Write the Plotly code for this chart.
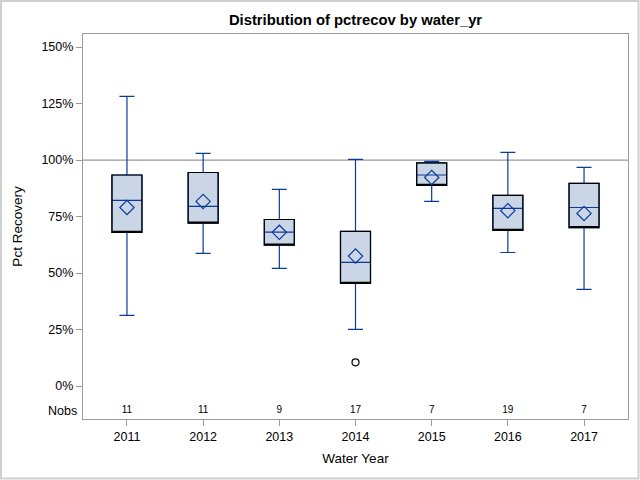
import plotly.graph_objects as go

years = ["2011", "2012", "2013", "2014", "2015", "2016", "2017"]
q1 = [68.0, 72.1, 62.4, 45.4, 88.8, 68.9, 70.1]
median = [82.2, 79.5, 68.1, 54.7, 93.4, 78.6, 79.0]
q3 = [93.4, 94.5, 73.7, 68.4, 98.8, 84.4, 89.7]
lower = [31.3, 58.7, 52.1, 25.1, 81.7, 59.1, 42.8]
upper = [128.2, 103.0, 87.0, 100.3, 99.4, 103.4, 96.8]
means = [79.0, 81.7, 68.0, 57.5, 92.3, 77.6, 76.4]
nobs = [11, 11, 9, 17, 7, 19, 7]
outlier_x = ["2014"]
outlier_y = [10.5]
ytick_vals = [0, 25, 50, 75, 100, 125, 150]
ytick_text = [f"{v}%" for v in ytick_vals]

BLUE = "#0B3B99"
FILL = "#CAD5E5"
GRAY = "#9A9A9A"
FONT = "Liberation Sans"

W, H = 640, 480
ML, MR, MT, MB = 83, 12, 34, 61

fig = go.Figure()

fig.add_trace(go.Box(
    x=years, q1=q1, median=median, q3=q3,
    lowerfence=lower, upperfence=upper,
    fillcolor=FILL, line=dict(color=BLUE, width=1.2),
    width=0.394, whiskerwidth=0.5, boxpoints=False,
    hoverinfo="skip", showlegend=False,
))
fig.add_trace(go.Box(
    x=years, q1=q1, median=q1, q3=q3,
    lowerfence=q1, upperfence=q3,
    fillcolor="rgba(0,0,0,0)", line=dict(color="black", width=1.2),
    width=0.394, whiskerwidth=0, boxpoints=False,
    hoverinfo="skip", showlegend=False,
))
fig.add_trace(go.Scatter(
    x=years, y=means, mode="markers",
    marker=dict(symbol="diamond-open", size=11, color=BLUE, line=dict(width=1.2)),
    showlegend=False, hoverinfo="skip",
))
fig.add_trace(go.Scatter(
    x=outlier_x, y=outlier_y, mode="markers",
    marker=dict(symbol="circle-open", size=7, color="black", line=dict(width=1.2)),
    showlegend=False, hoverinfo="skip",
))
fig.add_trace(go.Scatter(
    x=years, y=[-11] * len(years), mode="text",
    text=[str(n) for n in nobs], textposition="middle center",
    textfont=dict(family=FONT, size=10, color="black"),
    showlegend=False, hoverinfo="skip",
))

fig.add_hline(y=100, line=dict(color=GRAY, width=1.2), layer="below")

pw = W - ML - MR
ph = H - MT - MB
fig.add_shape(type="rect", xref="paper", yref="paper",
              x0=-(ML - 1) / pw, x1=1 + (MR - 1.5) / pw,
              y0=-(MB - 1.5) / ph, y1=1 + (MT - 1) / ph,
              line=dict(color="#D0D0D0", width=2))

fig.add_annotation(text="Nobs", xref="paper", yref="y", x=-4 / pw, y=-11,
                   xanchor="right", yanchor="middle", showarrow=False,
                   font=dict(family=FONT, size=12.5, color="black"))

fig.update_layout(
    width=W, height=H,
    margin=dict(l=ML, r=MR, t=MT, b=MB, autoexpand=False),
    paper_bgcolor="white", plot_bgcolor="white",
    font=dict(family=FONT, size=12, color="black"),
    title=dict(text="<b>Distribution of pctrecov by water_yr</b>",
               x=(ML + pw / 2) / W, xanchor="center", y=1 - 20 / H, yanchor="middle",
               font=dict(family=FONT, size=14.8, color="black")),
    boxmode="overlay",
)
fig.update_xaxes(
    type="category", range=[-0.577, 6.577], automargin=False,
    showline=True, linecolor=GRAY, linewidth=1.2, mirror=True,
    ticks="outside", ticklen=6, tickcolor=GRAY, showgrid=False,
    tickfont=dict(family=FONT, size=12.5),
    title=dict(text="Water Year", font=dict(family=FONT, size=13.5), standoff=10),
)
fig.update_yaxes(
    range=[-14.6, 155.8], automargin=False,
    tickmode="array", tickvals=ytick_vals, ticktext=ytick_text,
    showline=True, linecolor=GRAY, linewidth=1.2, mirror=True,
    ticks="outside", ticklen=6, tickcolor=GRAY, showgrid=False, zeroline=False,
    tickfont=dict(family=FONT, size=12.5),
    title=dict(text="Pct Recovery", font=dict(family=FONT, size=13.5), standoff=15),
)

fig.write_html("out.html", config={"displayModeBar": False},
               post_script="document.body.style.margin='0';document.body.style.overflow='hidden';")
